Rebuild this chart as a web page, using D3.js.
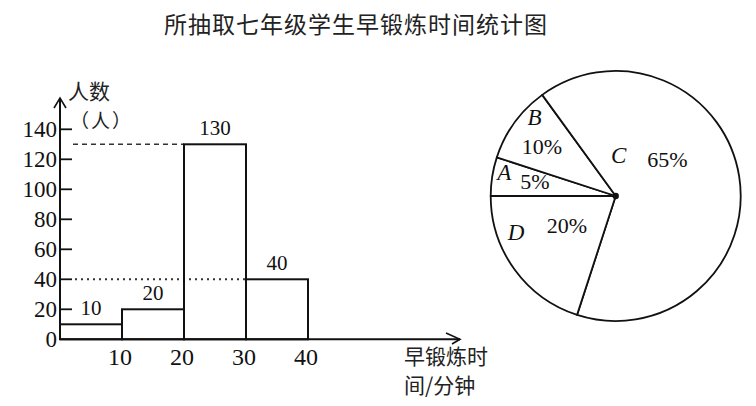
<!DOCTYPE html>
<html>
<head>
<meta charset="utf-8">
<script src="https://cdn.jsdelivr.net/npm/d3@7"></script>
<style>
  body { margin: 0; background: #fff; }
  svg { display: block; }
</style>
</head>
<body>
<svg id="chart" width="756" height="406"></svg>
<script>
// histogram data
var bin_starts = [0, 10, 20, 30];
var bin_ends = [10, 20, 30, 40];
var counts = [10, 20, 130, 40];
var y_ticks = [0, 20, 40, 60, 80, 100, 120, 140];
var x_ticks = [10, 20, 30, 40];

// pie data
var pie_letters = ["A", "B", "C", "D"];
var pie_percents = [5, 10, 65, 20];

var svg = d3.select("#chart");
var ink = "#111";
var serif = "'Liberation Serif', 'DejaVu Serif', serif";
var cjk = "'Noto Sans CJK SC', sans-serif";

// title
svg.append("text")
    .attr("x", 356).attr("y", 23)
    .attr("text-anchor", "middle")
    .attr("dominant-baseline", "central")
    .style("font-family", cjk)
    .style("font-size", "23px")
    .style("letter-spacing", "1px")
    .style("fill", "#222")
    .text("所抽取七年级学生早锻炼时间统计图");

// scales
var x = d3.scaleLinear().domain([0, 40]).range([60, 308]);
var y = d3.scaleLinear().domain([0, 140]).range([339.3, 129.3]);

// reference lines
svg.append("line")
    .attr("x1", 73).attr("x2", x(20))
    .attr("y1", y(130)).attr("y2", y(130))
    .attr("stroke", "#333").attr("stroke-width", 1.6)
    .attr("stroke-dasharray", "5,4");
svg.append("line")
    .attr("x1", 75).attr("x2", x(30))
    .attr("y1", y(40)).attr("y2", y(40))
    .attr("stroke", "#333").attr("stroke-width", 2)
    .attr("stroke-dasharray", "2,4");

// bars
var bars = svg.append("g");
bars.selectAll("rect")
    .data(counts)
    .enter().append("rect")
    .attr("x", function (d, i) { return x(bin_starts[i]); })
    .attr("y", function (d) { return y(d); })
    .attr("width", function (d, i) { return x(bin_ends[i]) - x(bin_starts[i]); })
    .attr("height", function (d) { return y(0) - y(d); })
    .attr("fill", "none")
    .attr("stroke", ink)
    .attr("stroke-width", 2);

// bar value labels
bars.selectAll("text")
    .data(counts)
    .enter().append("text")
    .attr("x", function (d, i) { return (x(bin_starts[i]) + x(bin_ends[i])) / 2; })
    .attr("y", function (d) { return y(d) - 16; })
    .attr("text-anchor", "middle")
    .attr("dominant-baseline", "central")
    .style("font-family", serif)
    .style("font-size", "21px")
    .style("fill", ink)
    .text(function (d) { return d; });

// y axis with arrow
var axes = svg.append("g")
    .attr("stroke", ink).attr("stroke-width", 2).attr("fill", "none");
axes.append("line").attr("x1", x(0)).attr("x2", x(0)).attr("y1", y(0)).attr("y2", 98);
axes.append("path").attr("d", "M" + (x(0) - 6) + ",108 L" + x(0) + ",98 L" + (x(0) + 6) + ",108")
    .attr("stroke-width", 1.6);
// x axis with arrow
axes.append("line").attr("x1", x(0)).attr("x2", 460).attr("y1", y(0)).attr("y2", y(0));
axes.append("path").attr("d", "M446,333 L460," + y(0) + " L452,344")
    .attr("stroke-width", 1.6);

// y ticks
svg.append("g").selectAll("line")
    .data(y_ticks.filter(function (d) { return d > 0; }))
    .enter().append("line")
    .attr("x1", x(0)).attr("x2", x(0) + 12)
    .attr("y1", function (d) { return y(d); })
    .attr("y2", function (d) { return y(d); })
    .attr("stroke", ink).attr("stroke-width", 1.8);

svg.append("g").selectAll("text")
    .data(y_ticks)
    .enter().append("text")
    .attr("x", 57)
    .attr("y", function (d) { return y(d); })
    .attr("text-anchor", "end")
    .attr("dominant-baseline", "central")
    .style("font-family", serif)
    .style("font-size", "23px")
    .style("fill", ink)
    .text(function (d) { return d; });

// x tick labels
svg.append("g").selectAll("text")
    .data(x_ticks)
    .enter().append("text")
    .attr("x", function (d) { return x(d) - 2; })
    .attr("y", 357)
    .attr("text-anchor", "middle")
    .attr("dominant-baseline", "central")
    .style("font-family", serif)
    .style("font-size", "24px")
    .style("fill", ink)
    .text(function (d) { return d; });

// axis titles
var axis_title = svg.append("g")
    .style("font-family", cjk)
    .style("fill", "#222");
axis_title.append("text").attr("x", 68).attr("y", 90)
    .attr("dominant-baseline", "central")
    .style("font-size", "21px").text("人数");
axis_title.append("text").attr("x", 70).attr("y", 119)
    .attr("dominant-baseline", "central")
    .style("font-size", "19px").style("letter-spacing", "2px").text("（人）");
axis_title.append("text").attr("x", 404).attr("y", 355)
    .attr("dominant-baseline", "central")
    .style("font-size", "21px").text("早锻炼时");
axis_title.append("text").attr("x", 404).attr("y", 384)
    .attr("dominant-baseline", "central")
    .style("font-size", "21px").text("间/分钟");

// pie chart
var cx = 615.7, cy = 196, radius = 125;
var pie_g = svg.append("g").attr("transform", "translate(" + cx + "," + cy + ")");

// start at the left (9 o'clock) and go clockwise: A, B, C, D
var pie_gen = d3.pie().sort(null)
    .startAngle(1.5 * Math.PI).endAngle(3.5 * Math.PI)
    .value(function (d) { return d; });
var arc_gen = d3.arc().innerRadius(0).outerRadius(radius);

pie_g.selectAll("path")
    .data(pie_gen(pie_percents))
    .enter().append("path")
    .attr("d", arc_gen)
    .attr("fill", "#fff")
    .attr("stroke", ink)
    .attr("stroke-width", 1.8)
    .attr("stroke-linejoin", "round");

pie_g.append("circle").attr("r", 3.2).attr("fill", ink);

// label spots as [radius, angle in degrees, clockwise from 12 o'clock]
var letter_spots = [[114, 282], [113, 314], [41, 4], [106, 250]];
var percent_spots = [[82, 280], [89, 304], [63, 55], [57, 239]];

function polar(p) {
    var a = p[1] * Math.PI / 180;
    return [p[0] * Math.sin(a), -p[0] * Math.cos(a)];
}

pie_g.selectAll("text.letter")
    .data(pie_letters)
    .enter().append("text")
    .attr("class", "letter")
    .attr("x", function (d, i) { return polar(letter_spots[i])[0]; })
    .attr("y", function (d, i) { return polar(letter_spots[i])[1]; })
    .attr("text-anchor", "middle")
    .attr("dominant-baseline", "central")
    .style("font-family", serif)
    .style("font-style", "italic")
    .style("font-size", "23px")
    .style("fill", ink)
    .text(function (d) { return d; });

pie_g.selectAll("text.pct")
    .data(pie_percents)
    .enter().append("text")
    .attr("class", "pct")
    .attr("x", function (d, i) { return polar(percent_spots[i])[0]; })
    .attr("y", function (d, i) { return polar(percent_spots[i])[1]; })
    .attr("text-anchor", "middle")
    .attr("dominant-baseline", "central")
    .style("font-family", serif)
    .style("font-size", "22px")
    .style("fill", ink)
    .text(function (d) { return d + "%"; });
</script>
</body>
</html>
